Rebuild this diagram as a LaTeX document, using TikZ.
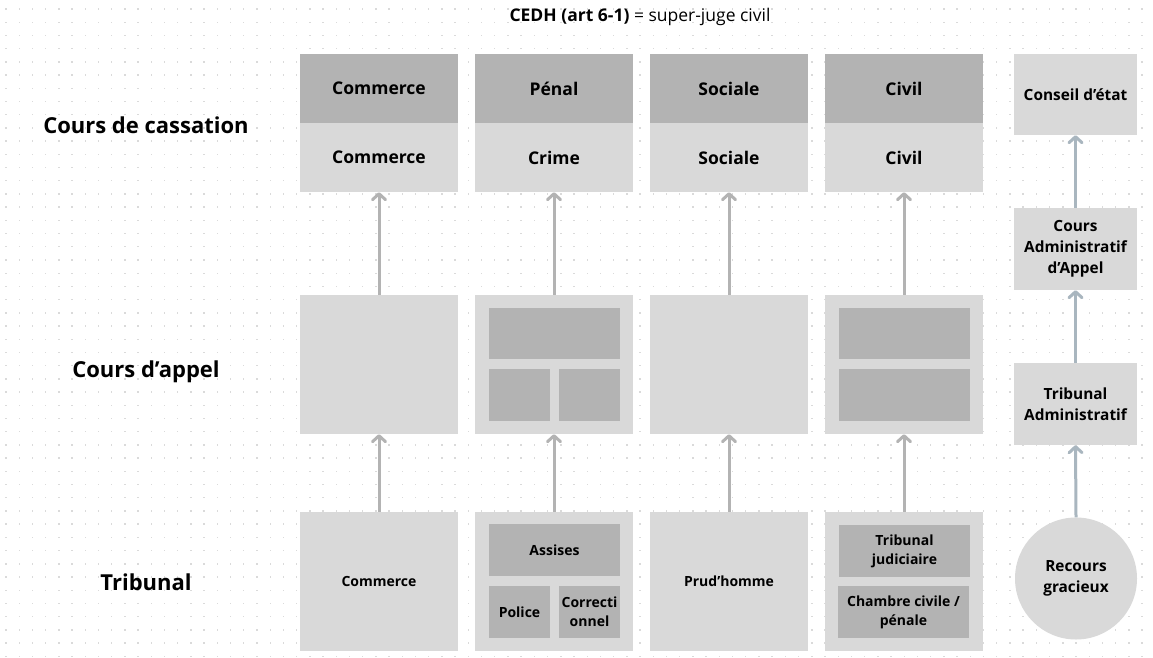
\documentclass[tikz,border=0pt]{standalone}
\usepackage{fontspec}
\setmainfont{Open Sans}
\usetikzlibrary{arrows.meta}
\definecolor{darkg}{HTML}{B3B3B3}
\definecolor{lightg}{HTML}{D9D9D9}
\definecolor{arrg}{HTML}{B3B3B3}
\definecolor{arrb}{HTML}{A9B6BF}
\definecolor{dotc}{HTML}{DADADA}
\tikzset{
  box/.style={rectangle, inner sep=0pt, align=center, font=\fontsize{17.5}{23}\selectfont\bfseries},
  darkbox/.style={box, fill=darkg},
  lightbox/.style={box, fill=lightg},
  smallbox/.style={rectangle, inner sep=0pt, align=center, fill=darkg, font=\fontsize{14}{19}\selectfont\bfseries},
  rightbox/.style={box, fill=lightg, minimum width=123pt, minimum height=82pt, font=\fontsize{15.4}{21}\selectfont\bfseries},
  rowlabel/.style={font=\fontsize{22}{27}\selectfont\bfseries},
  uparrow/.style={draw=arrg, line width=3pt, -{Straight Barb[length=6pt,width=13pt,round]}},
  uparrowb/.style={draw=arrb, line width=3pt, -{Straight Barb[length=6pt,width=13pt,round]}},
}
\begin{document}
\begin{tikzpicture}[x=1pt,y=-1pt]
\useasboundingbox (0,0) rectangle (1153,658);
\fill[white] (0,0) rectangle (1153,658);
\foreach \i in {0,...,86}{
  \foreach \j in {0,...,49}{
    \fill[dotc] ({6+\i*13.21-0.7},{9+\j*13.21-0.7}) rectangle ++(1.4,1.4);
  }
}
% title
\node[font=\fontsize{17.5}{22}\selectfont] (title) at (640,17) {\textbf{CEDH (art 6-1)} = super-juge civil};
% row labels
\node[rowlabel] (lcas) at (146,125) {Cours de cassation};
\node[rowlabel] (lapp) at (146,372) {Cours d’appel};
\node[rowlabel] (ltri) at (146,582) {Tribunal};

% columns: top dark header
\node[darkbox, minimum width=158pt, minimum height=69pt] (h1) at (379,88.5) {Commerce};
\node[darkbox, minimum width=158pt, minimum height=69pt] (h2) at (554,88.5) {Pénal};
\node[darkbox, minimum width=158pt, minimum height=69pt] (h3) at (729,88.5) {Sociale};
\node[darkbox, minimum width=158pt, minimum height=69pt] (h4) at (904,88.5) {Civil};
% cassation chambers
\node[lightbox, minimum width=158pt, minimum height=69pt] (c1) at (379,157.5) {Commerce};
\node[lightbox, minimum width=158pt, minimum height=69pt] (c2) at (554,157.5) {Crime};
\node[lightbox, minimum width=158pt, minimum height=69pt] (c3) at (729,157.5) {Sociale};
\node[lightbox, minimum width=158pt, minimum height=69pt] (c4) at (904,157.5) {Civil};
% appeal
\node[lightbox, minimum width=158pt, minimum height=139pt] (a1) at (379,364.5) {};
\node[lightbox, minimum width=158pt, minimum height=139pt] (a2) at (554,364.5) {};
\node[lightbox, minimum width=158pt, minimum height=139pt] (a3) at (729,364.5) {};
\node[lightbox, minimum width=158pt, minimum height=139pt] (a4) at (904,364.5) {};
\node[smallbox, minimum width=131pt, minimum height=51pt] (a2t) at (554.5,333.5) {};
\node[smallbox, minimum width=61pt, minimum height=52pt] (a2l) at (519.5,395) {};
\node[smallbox, minimum width=61pt, minimum height=52pt] (a2r) at (589.5,395) {};
\node[smallbox, minimum width=131pt, minimum height=51pt] (a4t) at (904.5,333.5) {};
\node[smallbox, minimum width=131pt, minimum height=52pt] (a4b) at (904.5,395) {};
% tribunals
\node[lightbox, minimum width=158pt, minimum height=139pt, font=\fontsize{14}{19}\selectfont\bfseries] (t1) at (379,581.5) {Commerce};
\node[lightbox, minimum width=158pt, minimum height=139pt] (t2) at (554,581.5) {};
\node[lightbox, minimum width=158pt, minimum height=139pt, font=\fontsize{14}{19}\selectfont\bfseries] (t3) at (729,581.5) {Prud’homme};
\node[lightbox, minimum width=158pt, minimum height=139pt] (t4) at (904,581.5) {};
\node[smallbox, minimum width=131pt, minimum height=52pt] (t2a) at (554.5,550) {Assises};
\node[smallbox, minimum width=61pt, minimum height=52pt] (t2p) at (519.5,612) {Police};
\node[smallbox, minimum width=61pt, minimum height=52pt] (t2c) at (589.5,612) {Correcti\\onnel};
\node[smallbox, minimum width=131pt, minimum height=52pt] (t4a) at (904.5,551) {Tribunal\\judiciaire};
\node[smallbox, minimum width=131pt, minimum height=52pt] (t4b) at (903.5,612) {Chambre civile /\\pénale};
% arrows
\foreach \k in {1,2,3,4}{
  \draw[uparrow] (t\k.north) -- (a\k.south);
  \draw[uparrow] (a\k.north) -- (c\k.south);
}
% administrative column
\node[rightbox, minimum height=81pt] (ce) at (1075.5,94.5) {Conseil d’état};
\node[rightbox] (caa) at (1075.5,249) {Cours\\Administratif\\d’Appel};
\node[rightbox] (ta) at (1075.5,404) {Tribunal\\Administratif};
\node[circle, fill=lightg, minimum size=122pt, inner sep=0pt, align=center, font=\fontsize{15.4}{21}\selectfont\bfseries] (rg) at (1076,578.5) {Recours\\gracieux};
\draw[uparrowb] (rg.north) -- (ta.south);
\draw[uparrowb] (ta.north) -- (caa.south);
\draw[uparrowb] (caa.north) -- (ce.south);
\end{tikzpicture}
\end{document}
